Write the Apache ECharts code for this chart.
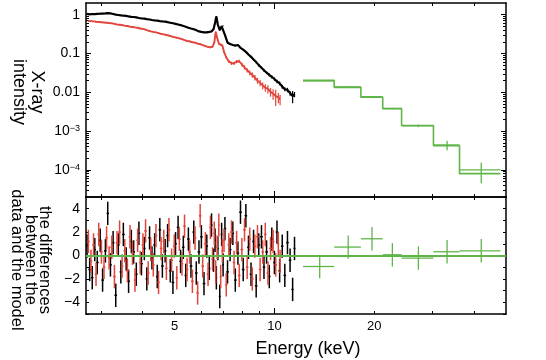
<!DOCTYPE html>
<html><head><meta charset="utf-8">
<script src="https://cdn.jsdelivr.net/npm/echarts@6/dist/echarts.min.js"></script>
<style>html,body{margin:0;padding:0;background:#fff}#c{width:546px;height:360px}</style>
</head><body><div id="c"></div>
<script>
// ---- data ----
const energies = [2.72,2.77,2.82,2.87,2.92,2.98,3.03,3.09,3.14,3.20,3.26,3.32,3.38,3.44,3.50,3.57,3.63,3.70,3.76,3.83,
  3.90,3.97,4.05,4.12,4.20,4.27,4.35,4.43,4.51,4.59,4.68,4.76,4.85,4.94,5.03,5.12,5.21,5.31,5.40,5.50,
  5.60,5.71,5.81,5.92,6.02,6.13,6.25,6.36,6.46,6.55,6.62,6.68,6.75,6.84,6.93,7.00,7.09,7.22,7.35,7.49,
  7.62,7.76,7.90,8.05,8.20,8.35,8.50,8.65,8.81,8.97,9.14,9.30,9.47,9.65,9.82,10.00,10.18,10.37,10.56,10.75,
  10.95,11.15,11.35,11.50];
const blackFlux = [1.05,1.02,1.04,1.03,1.05,1.06,1.07,1.08,1.10,1.08,1.04,1.00,0.98,0.96,0.94,0.93,0.90,0.88,0.87,0.85,
  0.82,0.80,0.79,0.77,0.75,0.73,0.71,0.70,0.68,0.67,0.66,0.64,0.62,0.60,0.58,0.56,0.54,0.51,0.49,0.46,
  0.44,0.42,0.40,0.37,0.36,0.35,0.35,0.36,0.37,0.42,0.62,0.90,0.55,0.40,0.50,0.52,0.30,0.19,0.175,0.165,
  0.160,0.165,0.140,0.125,0.110,0.094,0.082,0.070,0.060,0.050,0.043,0.037,0.032,0.028,0.025,0.022,0.019,0.017,0.014,0.012,
  0.0115,0.0095,0.0080,0.0088];
const blackRelErr = [0.02,0.025,0.02,0.02,0.025,0.02,0.02,0.025,0.02,0.02,0.025,0.02,0.02,0.025,0.02,0.02,0.025,0.02,0.02,0.025,
  0.02,0.025,0.02,0.025,0.02,0.025,0.02,0.025,0.02,0.025,0.025,0.02,0.025,0.03,0.025,0.025,0.03,0.025,0.03,0.025,
  0.03,0.03,0.025,0.03,0.03,0.03,0.03,0.035,0.03,0.03,0.03,0.025,0.03,0.035,0.03,0.03,0.04,0.04,0.045,0.04,
  0.045,0.04,0.05,0.05,0.055,0.05,0.06,0.06,0.065,0.07,0.07,0.08,0.08,0.09,0.09,0.1,0.1,0.11,0.12,0.12,
  0.13,0.14,0.35,0.15];
const redEnergies = [2.745,2.795,2.845,2.895,2.95,3.005,3.06,3.115,3.17,3.23,3.29,3.35,3.41,3.47,3.535,3.60,3.665,3.73,3.795,3.865,
  3.935,4.01,4.085,4.16,4.235,4.31,4.39,4.47,4.55,4.635,4.72,4.805,4.895,4.985,5.075,5.165,5.26,5.355,5.45,5.55,
  5.655,5.76,5.865,5.97,6.075,6.19,6.305,6.41,6.505,6.585,6.65,6.715,6.795,6.885,6.965,7.045,7.155,7.285,7.42,7.555,
  7.69,7.83,7.975,8.125,8.275,8.425,8.575,8.73,8.89,9.055,9.22,9.385,9.56,9.735,9.91,10.09,10.275,10.40];
const redFlux = [0.69,0.68,0.67,0.66,0.65,0.64,0.63,0.62,0.61,0.60,0.58,0.56,0.55,0.54,0.52,0.51,0.49,0.48,0.47,0.46,
  0.44,0.43,0.41,0.39,0.37,0.36,0.35,0.335,0.32,0.31,0.30,0.29,0.275,0.265,0.255,0.245,0.235,0.22,0.21,0.205,
  0.195,0.19,0.18,0.175,0.165,0.155,0.148,0.145,0.15,0.19,0.36,0.26,0.18,0.17,0.16,0.11,0.08,0.062,0.056,0.056,
  0.062,0.063,0.052,0.044,0.037,0.032,0.028,0.024,0.020,0.0175,0.015,0.0132,0.0122,0.0103,0.0092,0.0080,0.0074,0.0066];
const redRelErr = [0.03,0.035,0.03,0.03,0.035,0.03,0.035,0.03,0.03,0.035,0.035,0.03,0.035,0.035,0.03,0.035,0.035,0.04,0.035,0.035,
  0.04,0.035,0.04,0.04,0.035,0.04,0.04,0.045,0.04,0.04,0.045,0.04,0.045,0.045,0.05,0.045,0.05,0.05,0.045,0.05,
  0.05,0.055,0.05,0.055,0.06,0.055,0.06,0.06,0.055,0.05,0.045,0.04,0.05,0.06,0.065,0.07,0.08,0.09,0.1,0.1,
  0.1,0.1,0.11,0.12,0.13,0.14,0.15,0.16,0.17,0.18,0.2,0.22,0.24,0.25,0.3,0.45,0.3,0.3];
const blackResid = [0.8,-1.2,-1.9,0.5,-0.6,1.3,-2.1,0.4,3.6,-0.8,1.1,-3.4,0.9,-1.4,1.8,-0.3,-2.2,1.2,0.3,-1.6,
  1.9,-0.7,0.6,-2.0,1.5,-0.2,0.9,-1.8,2.2,-0.9,0.4,1.7,-1.3,-2.3,1.0,2.4,-0.5,0.7,-1.7,1.4,
  -0.9,2.0,-1.5,0.3,1.6,-2.4,0.8,-1.1,2.6,-0.4,1.3,-1.9,0.6,-3.5,1.8,-0.8,2.3,-1.4,0.5,1.9,
  -2.1,0.2,3.7,-1.2,3.4,0.7,-1.6,1.2,-2.6,0.9,1.6,-1.0,0.3,-1.8,1.4,-0.6,2.0,-1.3,0.8,-1.7,
  1.1,-0.4,-2.9,0.6];
const redResid = [1.2,-0.5,0.9,-1.6,1.8,0.3,-1.0,1.5,-0.2,0.7,-1.8,1.1,2.0,-0.9,0.4,-1.3,1.6,0.2,-2.1,1.3,
  -0.6,0.9,2.1,-1.5,0.5,-0.8,1.7,-2.3,0.6,1.2,-1.1,2.2,-0.4,0.8,-1.9,1.4,-0.7,2.5,-1.2,0.3,
  -2.2,1.5,-3.2,3.4,-0.9,1.0,-1.6,2.4,-0.3,1.9,-1.4,0.7,2.6,-1.8,0.4,1.3,-2.5,0.9,2.0,-0.6,
  1.1,-1.7,0.5,2.2,-1.0,1.4,-2.0,0.8,1.6,-1.2,0.3,1.8,-1.5,0.6,1.2,-0.8,1.0,-0.5];
const hxdEdges = [12.2,15.15,18.24,21.23,24.2,30.2,36.2,48.1];
const hxdCenters = [13.7,16.7,19.7,22.7,27.2,33.2,42.1];
const hxdModel = [0.0203,0.0134,0.00745,0.0038,0.00139,4.2e-4,8.0e-5];
const hxdData = [0.0196,0.0138,0.0077,0.00381,0.00137,4.4e-4,1.0e-4];
const hxdErr = [0.0004,0.0005,0.0003,0.00016,0.0001,1.2e-4,0.55e-4];
const hxdResid = [-0.94,0.72,1.43,0.06,-0.22,0.32,0.4];
// axis ticks / labels
const xMin = 2.7, xMax = 50;
const xMinorTicks = [3,4,5,6,7,8,9,20,30,40];
const xMajorTicks = [10];
const xLabelValues = [5,10,20];
const yDecades = [1e-4,1e-3,0.01,0.1,1];
const yMin = 2e-5, yMax = 2;

// ---- styles ----
const BLACK = '#000000', RED = '#e2453b', GREEN = '#5fb548';
const FONT = 'Liberation Sans, Arial, Helvetica, sans-serif';
const yMinorTicks = [];
for (let d = -5; d <= 0; d++) for (let m = 2; m <= 9; m++) { const v = m * Math.pow(10, d); if (v > yMin && v < yMax) yMinorTicks.push(v); }

function binEdges(xs, i) {
  const x = xs[i];
  const lo = i > 0 ? Math.sqrt(xs[i - 1] * x) : x / Math.sqrt(xs[1] / xs[0]);
  const hi = i < xs.length - 1 ? Math.sqrt(x * xs[i + 1]) : x * Math.sqrt(x / xs[i - 1]);
  return [lo, hi];
}
function errData(xs, ys, errFn) {
  return ys.map((y, i) => { const [lo, hi] = binEdges(xs, i); const e = errFn(i); return [xs[i], y, y - e[0], y + e[1], lo, hi]; });
}
function crossRender(color, lw, showX) {
  return function (params, api) {
    const c = api.coord([api.value(0), api.value(1)]);
    const lo = api.coord([api.value(0), api.value(2)]);
    const hi = api.coord([api.value(0), api.value(3)]);
    const xl = api.coord([api.value(4), api.value(1)]);
    const xh = api.coord([api.value(5), api.value(1)]);
    const children = [{ type: 'line', shape: { x1: c[0], y1: lo[1], x2: c[0], y2: hi[1] }, style: { stroke: color, lineWidth: lw } }];
    if (showX) children.push({ type: 'line', shape: { x1: xl[0], y1: c[1], x2: xh[0], y2: c[1] }, style: { stroke: color, lineWidth: lw } });
    return { type: 'group', children };
  };
}

function xAx(grid, pos, major, extra) {
  return Object.assign({
    type: 'log', logBase: 10, gridIndex: grid, position: pos, min: xMin, max: xMax,
    axisLine: { show: !major, onZero: false, lineStyle: { color: BLACK, width: 1.5 } },
    axisTick: { show: true, inside: true, length: major ? 6 : 3, customValues: major ? xMajorTicks : xMinorTicks, lineStyle: { color: BLACK, width: 1 } },
    axisLabel: { show: false }, splitLine: { show: false }
  }, extra || {});
}
function yLogAx(pos, major, extra) {
  return Object.assign({
    type: 'log', logBase: 10, gridIndex: 0, position: pos, min: yMin, max: yMax,
    axisLine: { show: !major, onZero: false, lineStyle: { color: BLACK, width: 1.5 } },
    axisTick: { show: true, inside: true, length: major ? 5 : 3, customValues: major ? yDecades : yMinorTicks, lineStyle: { color: BLACK, width: 1 } },
    axisLabel: { show: false }, splitLine: { show: false }
  }, extra || {});
}
function yResAx(pos, extra) {
  return Object.assign({
    type: 'value', gridIndex: 1, position: pos, min: -5, max: 5, interval: 1,
    axisLine: { show: true, onZero: false, lineStyle: { color: BLACK, width: 1.5 } },
    axisTick: { show: true, inside: true, length: 3, lineStyle: { color: BLACK, width: 1 } },
    axisLabel: { show: false }, splitLine: { show: false }
  }, extra || {});
}

const option = {
  animation: false,
  backgroundColor: '#fff',
  grid: [
    { left: 86, top: 3, width: 420, height: 194 },
    { left: 86, top: 197, width: 420, height: 117 }
  ],
  xAxis: [
    xAx(0, 'bottom', false), xAx(0, 'bottom', true), xAx(0, 'top', false), xAx(0, 'top', true),
    xAx(1, 'bottom', false, { axisLabel: { show: true, customValues: xLabelValues, margin: 6, color: BLACK, fontSize: 13, fontFamily: FONT, formatter: v => String(Math.round(v)) } }),
    xAx(1, 'bottom', true), xAx(1, 'top', false), xAx(1, 'top', true)
  ],
  yAxis: [
    yLogAx('left', false, { axisLabel: { show: true, customValues: yDecades, margin: 6, color: BLACK, fontSize: 14, fontFamily: FONT,
      formatter: v => { const e = Math.round(Math.log10(v)); if (e === 0) return '1'; if (e === -1) return '0.1'; if (e === -2) return '0.01'; return '10{s|\u2212' + (-e) + '}'; },
      rich: { s: { fontSize: 9, fontFamily: FONT, color: BLACK, verticalAlign: 'top', lineHeight: 10 } } } }),
    yLogAx('left', true), yLogAx('right', false), yLogAx('right', true),
    yResAx('left', { axisLabel: { show: true, margin: 6, color: BLACK, fontSize: 14, fontFamily: FONT,
      formatter: v => { const r = Math.round(v); if (r % 2 !== 0 || Math.abs(r) > 4) return ''; return r < 0 ? '\u2212' + (-r) : String(r); } } }),
    yResAx('right')
  ],
  graphic: [
    { type: 'text', x: 28, y: 92, rotation: -Math.PI / 2, style: { text: 'X-ray\nintensity', fontSize: 18, fontFamily: FONT, lineHeight: 18, align: 'center', verticalAlign: 'middle', fill: BLACK } },
    { type: 'text', x: 31, y: 260, rotation: -Math.PI / 2, style: { text: 'the differences\nbetween the\ndata and the model', fontSize: 16.5, fontFamily: FONT, lineHeight: 14, align: 'center', verticalAlign: 'middle', fill: BLACK } },
    { type: 'text', x: 308, y: 349, style: { text: 'Energy (keV)', fontSize: 18, fontFamily: FONT, align: 'center', verticalAlign: 'middle', fill: BLACK } }
  ],
  series: [
    // top panel
    { type: 'custom', xAxisIndex: 0, yAxisIndex: 0, renderItem: crossRender(BLACK, 1.2, false), encode: { x: 0, y: 1 },
      data: errData(energies, blackFlux, i => [blackFlux[i] * blackRelErr[i], blackFlux[i] * blackRelErr[i]]) },
    { type: 'line', xAxisIndex: 0, yAxisIndex: 0, showSymbol: false, lineStyle: { color: BLACK, width: 2.2 }, itemStyle: { color: BLACK },
      data: energies.map((e, i) => [e, blackFlux[i]]) },
    { type: 'custom', xAxisIndex: 0, yAxisIndex: 0, renderItem: crossRender(RED, 1.2, false), encode: { x: 0, y: 1 },
      data: errData(redEnergies, redFlux, i => [redFlux[i] * redRelErr[i], redFlux[i] * redRelErr[i]]) },
    { type: 'line', xAxisIndex: 0, yAxisIndex: 0, showSymbol: false, lineStyle: { color: RED, width: 1.9 }, itemStyle: { color: RED },
      data: redEnergies.map((e, i) => [e, redFlux[i]]) },
    { type: 'line', xAxisIndex: 0, yAxisIndex: 0, step: 'end', showSymbol: false, lineStyle: { color: GREEN, width: 1.6 }, itemStyle: { color: GREEN },
      data: hxdEdges.map((e, i) => [e, hxdModel[Math.min(i, hxdModel.length - 1)]]) },
    { type: 'custom', xAxisIndex: 0, yAxisIndex: 0, renderItem: crossRender(GREEN, 1.3, true), encode: { x: 0, y: 1 },
      data: hxdData.map((v, i) => [hxdCenters[i], v, v - hxdErr[i], v + hxdErr[i], hxdEdges[i], hxdEdges[i + 1]]) },
    // bottom panel
    { type: 'custom', xAxisIndex: 4, yAxisIndex: 4, renderItem: crossRender(BLACK, 1.5, true), encode: { x: 0, y: 1 },
      data: errData(energies, blackResid, () => [1, 1]) },
    { type: 'custom', xAxisIndex: 4, yAxisIndex: 4, renderItem: crossRender(RED, 1.5, true), encode: { x: 0, y: 1 },
      data: errData(redEnergies, redResid, () => [1, 1]) },
    { type: 'custom', xAxisIndex: 4, yAxisIndex: 4, renderItem: crossRender(GREEN, 1.3, true), encode: { x: 0, y: 1 },
      data: hxdResid.map((v, i) => [hxdCenters[i], v, v - 1, v + 1, hxdEdges[i], hxdEdges[i + 1]]),
      markLine: { silent: true, symbol: 'none', label: { show: false }, lineStyle: { color: GREEN, width: 2, type: 'solid' }, data: [{ yAxis: 0 }] } }
  ]
};
const chart = echarts.init(document.getElementById('c'), null, { renderer: 'canvas' });
chart.setOption(option);
</script>
</body></html>
